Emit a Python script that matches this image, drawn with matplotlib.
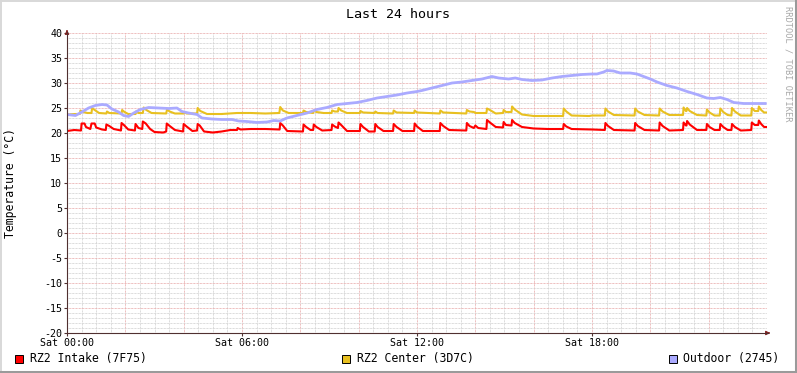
import numpy as np
import matplotlib
matplotlib.use("Agg")
import matplotlib.pyplot as plt
from matplotlib.patches import Rectangle

# hours since Sat 00:00 and temperatures
intake_t = [0.0, 0.25, 0.48, 0.5, 0.6, 0.65, 0.8, 0.84, 0.95, 1.0, 1.2, 1.33, 1.35, 1.45, 1.6,
            1.85, 1.87, 1.95, 2.1, 2.33, 2.35, 2.45, 2.58, 2.6, 2.7, 2.85, 3.0, 3.3, 3.4, 3.42,
            3.5, 3.7, 3.98, 4.0, 4.1, 4.3, 4.46, 4.48, 4.55, 4.7, 5.0, 5.3, 5.6, 5.83, 5.85,
            5.95, 6.3, 6.8, 7.29, 7.31, 7.4, 7.55, 8.09, 8.11, 8.2, 8.35, 8.44, 8.46, 8.55, 8.75,
            9.07, 9.09, 9.18, 9.29, 9.31, 9.4, 9.6, 10.04, 10.06, 10.15, 10.35, 10.55, 10.57,
            10.65, 10.85, 11.18, 11.2, 11.3, 11.5, 11.9, 11.92, 12.0, 12.2, 12.78, 12.8, 12.9,
            13.1, 13.69, 13.71, 13.8, 13.95, 14.0, 14.1, 14.38, 14.4, 14.5, 14.7, 14.95, 14.97,
            15.05, 15.24, 15.26, 15.35, 15.6, 16.0, 16.5, 17.01, 17.03, 17.12, 17.3, 18.0,
            18.44, 18.46, 18.55, 18.75, 19.46, 19.48, 19.57, 19.8, 20.3, 20.32, 20.42, 20.65,
            21.12, 21.14, 21.22, 21.24, 21.26, 21.35, 21.6, 21.92, 21.94, 22.03, 22.2, 22.38,
            22.4, 22.5, 22.65, 22.78, 22.8, 22.9, 23.1, 23.46, 23.48, 23.58, 23.7, 23.72, 23.8,
            23.9, 24.0]
intake_v = [20.4, 20.6, 20.5, 21.9, 21.9, 21.2, 20.8, 21.9, 21.9, 21.1, 20.7, 20.6, 21.7, 21.4, 20.8,
            20.5, 22.0, 21.6, 20.7, 20.5, 21.8, 21.0, 20.8, 22.3, 21.9, 20.8, 20.2, 20.1, 20.3, 21.9,
            21.5, 20.6, 20.3, 21.8, 21.3, 20.4, 20.5, 21.8, 21.5, 20.3, 20.1, 20.3, 20.6, 20.6, 21.0,
            20.7, 20.8, 20.8, 20.7, 22.0, 21.5, 20.4, 20.3, 21.7, 21.2, 20.6, 20.6, 21.7, 21.2, 20.5,
            20.6, 21.7, 21.3, 21.0, 22.1, 21.6, 20.4, 20.4, 21.8, 21.2, 20.3, 20.3, 21.8,
            21.2, 20.4, 20.4, 21.8, 21.2, 20.4, 20.4, 21.9, 21.3, 20.4, 20.4, 22.0, 21.4,
            20.6, 20.5, 22.0, 21.4, 21.0, 21.5, 21.0, 20.8, 22.6, 22.1, 21.2, 21.1, 22.2,
            21.6, 21.5, 22.6, 22.0, 21.2, 20.9, 20.8, 20.8, 21.8, 21.3, 20.8, 20.7,
            20.6, 22.0, 21.4, 20.6, 20.5, 22.0, 21.4, 20.6, 20.5, 22.1, 21.4, 20.5,
            20.6, 22.1, 21.5, 21.5, 22.4, 21.7, 20.6, 20.6, 21.8, 21.2, 20.6, 20.6,
            21.8, 21.2, 20.6, 20.6, 21.8, 21.2, 20.5, 20.6, 22.1, 21.6, 21.6, 22.5, 21.8,
            21.2, 21.2]

center_t = [0.0, 0.3, 0.44, 0.46, 0.55, 0.7, 0.84, 0.86, 0.95, 1.1, 1.35, 1.37, 1.45, 1.87, 1.89,
            1.97, 2.1, 2.35, 2.37, 2.45, 2.6, 2.63, 2.72, 2.9, 3.4, 3.43, 3.52, 3.7, 4.0, 4.02,
            4.1, 4.46, 4.48, 4.57, 4.8, 5.3, 5.83, 6.3, 6.8, 7.28, 7.31, 7.4, 7.6, 8.09, 8.11,
            8.2, 8.44, 8.46, 8.55, 8.8, 9.07, 9.09, 9.18, 9.29, 9.31, 9.4, 9.6, 10.04, 10.06,
            10.15, 10.55, 10.57, 10.65, 11.18, 11.2, 11.3, 11.9, 11.92, 12.0, 12.78, 12.8, 12.9,
            13.69, 13.71, 13.8, 13.95, 14.0, 14.38, 14.4, 14.5, 14.7, 14.95, 14.97, 15.05, 15.24,
            15.26, 15.35, 15.6, 16.0, 16.5, 17.01, 17.03, 17.12, 17.3, 17.9, 18.0, 18.44, 18.46,
            18.55, 18.75, 19.46, 19.48, 19.57, 19.8, 20.3, 20.32, 20.42, 20.65, 21.12, 21.14,
            21.22, 21.24, 21.26, 21.35, 21.6, 21.92, 21.94, 22.03, 22.2, 22.38, 22.4, 22.5, 22.65,
            22.78, 22.8, 22.9, 23.1, 23.46, 23.48, 23.58, 23.7, 23.72, 23.8, 23.9, 24.0]
center_v = [23.7, 23.8, 23.8, 24.5, 24.2, 24.0, 24.0, 25.0, 24.6, 24.0, 23.9, 24.3, 24.0, 23.9, 24.6,
            24.2, 23.8, 23.8, 24.3, 24.0, 24.0, 25.1, 24.6, 24.0, 23.9, 24.7, 24.3, 23.9, 23.9, 24.2,
            23.9, 23.9, 25.0, 24.4, 23.8, 23.8, 24.0, 24.0, 23.9, 24.0, 25.2, 24.5, 24.0, 24.0, 24.5,
            24.2, 24.0, 24.5, 24.2, 24.0, 24.0, 24.5, 24.3, 24.3, 25.0, 24.5, 24.0, 24.0, 24.4,
            24.1, 24.0, 24.3, 24.0, 23.9, 24.5, 24.1, 24.0, 24.5, 24.1, 23.9, 24.5, 24.1,
            23.9, 24.6, 24.3, 24.2, 24.0, 24.0, 24.9, 24.6, 23.9, 24.0, 24.6, 24.2, 24.2,
            25.3, 24.7, 23.7, 23.4, 23.4, 23.4, 24.9, 24.3, 23.5, 23.4, 23.5, 23.5, 24.9,
            24.3, 23.6, 23.5, 24.9, 24.3, 23.6, 23.5, 24.9, 24.3, 23.6, 23.6, 25.1,
            24.4, 24.4, 25.0, 24.4, 23.6, 23.5, 24.7, 24.1, 23.5, 23.5, 24.9, 24.2, 23.6,
            23.5, 25.0, 24.3, 23.5, 23.5, 25.0, 24.4, 24.4, 25.3, 24.6, 24.1, 24.1]

outdoor_t = [0.0, 0.29, 0.51, 0.74, 0.97, 1.2, 1.37, 1.54, 1.77, 1.94, 2.11, 2.29, 2.51, 2.8, 3.14,
             3.49, 3.77, 3.94, 4.17, 4.46, 4.63, 4.97, 5.31, 5.66, 5.89, 6.17, 6.51, 6.86, 7.09,
             7.31, 7.54, 7.88, 8.23, 8.57, 8.91, 9.26, 9.6, 9.94, 10.28, 10.63, 10.97, 11.31,
             11.66, 12.0, 12.17, 12.51, 12.86, 13.2, 13.54, 13.88, 14.23, 14.57, 14.8, 15.14,
             15.37, 15.6, 15.94, 16.28, 16.63, 16.97, 17.31, 17.66, 18.0, 18.17, 18.4, 18.51,
             18.74, 18.97, 19.31, 19.54, 19.77, 20.0, 20.23, 20.57, 20.91, 21.26, 21.6, 21.94,
             22.17, 22.4, 22.63, 22.86, 23.2, 23.54, 23.94]
outdoor_v = [23.7, 23.5, 24.2, 25.0, 25.5, 25.7, 25.6, 24.8, 24.2, 23.5, 23.3, 24.0, 24.7, 25.1, 25.0,
             24.9, 25.0, 24.3, 24.0, 23.7, 23.0, 22.8, 22.7, 22.7, 22.4, 22.3, 22.1, 22.2, 22.5,
             22.4, 23.0, 23.5, 24.0, 24.7, 25.1, 25.7, 25.9, 26.1, 26.5, 27.0, 27.3, 27.6,
             28.0, 28.3, 28.5, 29.0, 29.5, 30.0, 30.2, 30.5, 30.8, 31.3, 31.0, 30.8,
             31.0, 30.7, 30.5, 30.6, 31.0, 31.3, 31.5, 31.7, 31.8, 31.8, 32.2, 32.5,
             32.4, 32.0, 32.0, 31.8, 31.3, 30.8, 30.2, 29.5, 29.0, 28.3, 27.7, 27.0,
             26.9, 27.1, 26.7, 26.1, 25.9, 25.9, 25.9]

series_names = ["RZ2 Intake (7F75)", "RZ2 Center (3D7C)", "Outdoor (2745)"]
series_colors = ["#ff0000", "#e8c020", "#aaaaff"]
tick_hours = [0, 6, 12, 18]
tick_labels = ["Sat 00:00", "Sat 06:00", "Sat 12:00", "Sat 18:00"]

W, H = 797, 373
mono = "DejaVu Sans Mono"


def fx(px):
    return px / W


def fy(py):
    return 1 - py / H


fig = plt.figure(figsize=(W / 100, H / 100), dpi=100, facecolor="white")
ax = fig.add_axes([fx(67), fy(333), 700 / W, 300 / H])
ax.set_xlim(0, 24)
ax.set_ylim(-20, 40)
for s in ax.spines.values():
    s.set_visible(False)

dots = (0, (0.72, 0.72))
for h in np.arange(0.5, 24, 0.5):
    major = (h % 2 == 0)
    ax.axvline(h, color="#e8a8a8" if major else "#d0d0d0", lw=0.72, ls=dots, zorder=1)
for v in np.arange(-19, 41, 1):
    major = (v % 5 == 0)
    ax.axhline(v, color="#e8a8a8" if major else "#d0d0d0", lw=0.72, ls=dots, zorder=1)

ax.plot(intake_t, intake_v, color=series_colors[0], lw=1.5, zorder=3)
ax.plot(center_t, center_v, color=series_colors[1], lw=1.5, zorder=4)
ax.plot(outdoor_t, outdoor_v, color=series_colors[2], lw=2.0, zorder=5)

ax.set_xticks(tick_hours)
ax.set_xticklabels(tick_labels, fontfamily=mono, fontsize=7.2)
ax.set_yticks(np.arange(-20, 41, 5))
ax.set_yticklabels([str(v) for v in np.arange(-20, 41, 5)], fontfamily=mono, fontsize=7.2)
ax.tick_params(axis="both", length=2, width=0.8, color="#503030", pad=1.5)

# axes with arrows
axis_col = "#503030"
arrow_col = "#7f1f1f"
fig.add_artist(plt.Line2D([fx(67), fx(768)], [fy(333), fy(333)], color=axis_col, lw=0.8))
fig.add_artist(plt.Line2D([fx(67), fx(67)], [fy(333), fy(32)], color=axis_col, lw=0.8))
ax.annotate("", xy=(fx(773), fy(333)), xytext=(fx(766), fy(333)), xycoords="figure fraction",
            arrowprops=dict(arrowstyle="-|>", color=arrow_col, lw=0.8, mutation_scale=6))
ax.annotate("", xy=(fx(67), fy(27)), xytext=(fx(67), fy(34)), xycoords="figure fraction",
            arrowprops=dict(arrowstyle="-|>", color=arrow_col, lw=0.8, mutation_scale=6))

fig.text(fx(398), fy(14), "Last 24 hours", fontfamily=mono, fontsize=9.6, ha="center", va="center")
fig.text(fx(11), fy(183), "Temperature (°C)", fontfamily=mono, fontsize=8.3, rotation=90,
         ha="center", va="center")
fig.text(fx(788), fy(6), "RRDTOOL / TOBI OETIKER", fontfamily=mono, fontsize=6.2, rotation=270,
         ha="center", va="top", color="#a8a8a8")

# legend
box_x = [15, 342, 669]
text_x = [30, 357, 683]
for bx, tx, name, col in zip(box_x, text_x, series_names, series_colors):
    fig.add_artist(Rectangle((fx(bx), fy(363)), 8 / W, 8 / H, transform=fig.transFigure,
                             facecolor=col, edgecolor="black", lw=0.7))
    fig.text(fx(tx), fy(358.5), name, fontfamily=mono, fontsize=8.3, ha="left", va="center")

# frame shading
fig.add_artist(plt.Line2D([0, 1], [fy(0.5), fy(0.5)], color="#d8d8d8", lw=1.4))
fig.add_artist(plt.Line2D([fx(0.5), fx(0.5)], [0, 1], color="#d8d8d8", lw=1.4))
fig.add_artist(plt.Line2D([0, 1], [fy(372), fy(372)], color="#9a9a9a", lw=2.2))
fig.add_artist(plt.Line2D([fx(796), fx(796)], [0, 1], color="#9a9a9a", lw=2.2))

fig.savefig("out.png", dpi=100, facecolor="white")
